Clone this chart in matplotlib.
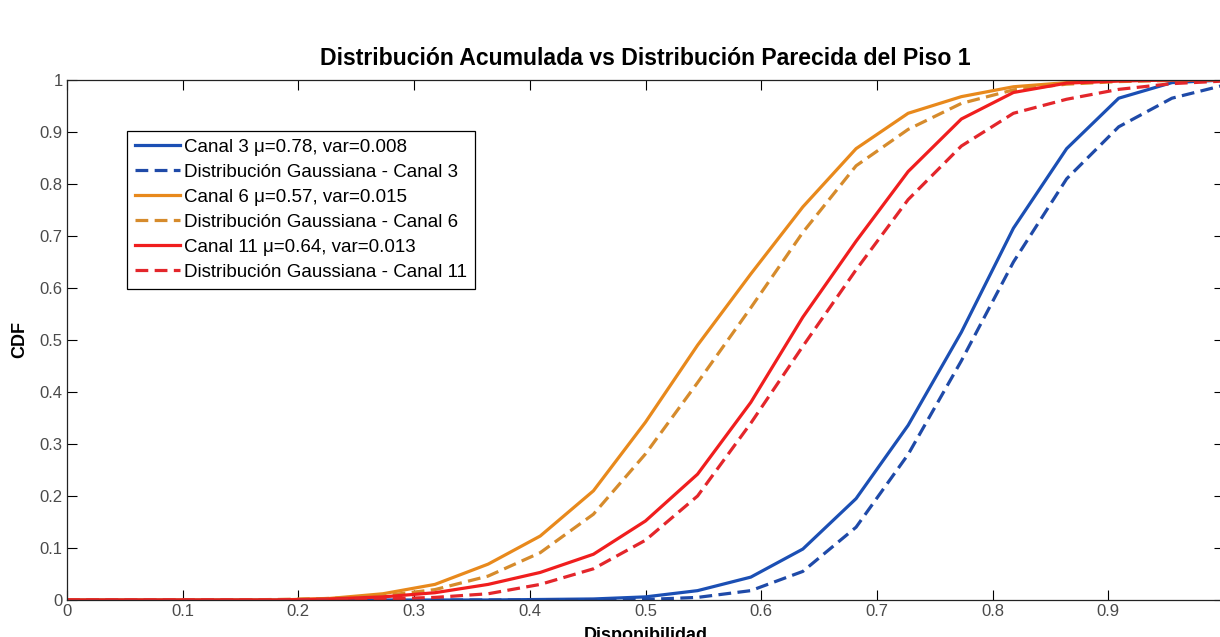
import numpy as np
import matplotlib
matplotlib.use('Agg')
import matplotlib.pyplot as plt

plt.rcParams['font.family'] = ['Liberation Sans', 'DejaVu Sans']

# x grid of the empirical CDF (23 points from 0 to 1)
disponibilidad = [0.0, 0.045, 0.091, 0.136, 0.182, 0.227, 0.273, 0.318, 0.364, 0.409, 0.455, 0.5,
                  0.545, 0.591, 0.636, 0.682, 0.727, 0.773, 0.818, 0.864, 0.909, 0.955, 1.0]

canal3 = [0, 0, 0, 0, 0, 0, 0, 0, 0, 0.001, 0.002, 0.006,
          0.018, 0.044, 0.098, 0.195, 0.336, 0.515, 0.715, 0.868, 0.965, 0.995, 1.0]
gauss3 = [0, 0, 0, 0, 0, 0, 0, 0, 0, 0, 0, 0.001,
          0.005, 0.018, 0.055, 0.14, 0.28, 0.46, 0.65, 0.81, 0.91, 0.965, 0.99]

canal6 = [0, 0, 0, 0, 0, 0.003, 0.012, 0.03, 0.069, 0.123, 0.21, 0.342,
          0.49, 0.627, 0.756, 0.868, 0.936, 0.968, 0.987, 0.995, 0.999, 1.0, 1.0]
gauss6 = [0, 0, 0, 0, 0.001, 0.003, 0.008, 0.02, 0.046, 0.091, 0.165, 0.281,
          0.418, 0.562, 0.707, 0.835, 0.905, 0.955, 0.981, 0.992, 0.997, 0.999, 1.0]

canal11 = [0, 0, 0, 0, 0, 0.002, 0.006, 0.014, 0.03, 0.053, 0.088, 0.152,
           0.242, 0.38, 0.544, 0.69, 0.824, 0.925, 0.976, 0.994, 0.998, 1.0, 1.0]
gauss11 = [0, 0, 0, 0, 0, 0.001, 0.002, 0.005, 0.012, 0.03, 0.06, 0.115,
           0.2, 0.34, 0.488, 0.635, 0.77, 0.873, 0.936, 0.963, 0.982, 0.993, 0.998]

labels = ['Canal 3 \u03bc=0.78, var=0.008', 'Distribuci\u00f3n Gaussiana - Canal 3',
          'Canal 6 \u03bc=0.57, var=0.015', 'Distribuci\u00f3n Gaussiana - Canal 6',
          'Canal 11 \u03bc=0.64, var=0.013', 'Distribuci\u00f3n Gaussiana - Canal 11']
ticklabels = ['0', '0.1', '0.2', '0.3', '0.4', '0.5', '0.6', '0.7', '0.8', '0.9', '1']

fig = plt.figure(figsize=(12.2, 6.37), dpi=100)
ax = fig.add_axes([67 / 1220, 37 / 637, 1157 / 1220, 520 / 637])

lw = 2.3
dash = (0, (4, 2))
ax.plot(disponibilidad, canal3, color='#1b4fb4', lw=lw, label=labels[0])
ax.plot(disponibilidad, gauss3, color='#1f4aa8', lw=lw, ls=dash, label=labels[1])
ax.plot(disponibilidad, canal6, color='#e8891c', lw=lw, label=labels[2])
ax.plot(disponibilidad, gauss6, color='#d68b2c', lw=lw, ls=dash, label=labels[3])
ax.plot(disponibilidad, canal11, color='#f01e1e', lw=lw, label=labels[4])
ax.plot(disponibilidad, gauss11, color='#e3262b', lw=lw, ls=dash, label=labels[5])

ax.set_xlim(0, 1)
ax.set_ylim(0, 1)
ax.set_xticks(np.arange(0, 1.01, 0.1))
ax.set_yticks(np.arange(0, 1.01, 0.1))
# the right end of the x axis is cut off in the original figure
ax.set_xticklabels(ticklabels[:-1] + [''])
ax.set_yticklabels(ticklabels)
ax.tick_params(direction='in', length=7, width=0.8, top=True, right=True,
               labelsize=12, labelcolor='#4a4a4a', pad=3)
for s in ax.spines.values():
    s.set_linewidth(0.9)
    s.set_color('#222222')

ax.set_title('Distribuci\u00f3n Acumulada vs Distribuci\u00f3n Parecida del Piso 1',
             fontsize=16.6, fontweight='bold', pad=11)
ax.set_xlabel('Disponibilidad', fontsize=13, fontweight='bold', labelpad=6)
ax.set_ylabel('CDF', fontsize=13, fontweight='bold', labelpad=8)

leg = ax.legend(loc='upper left', bbox_to_anchor=(0.0519, 0.902), borderaxespad=0,
                fontsize=13.5, handlelength=2.4, handletextpad=0.2, labelspacing=0.42,
                borderpad=0.42, fancybox=False, framealpha=1, edgecolor='black')
leg.get_frame().set_linewidth(0.9)

fig.savefig('out.png', dpi=100)
